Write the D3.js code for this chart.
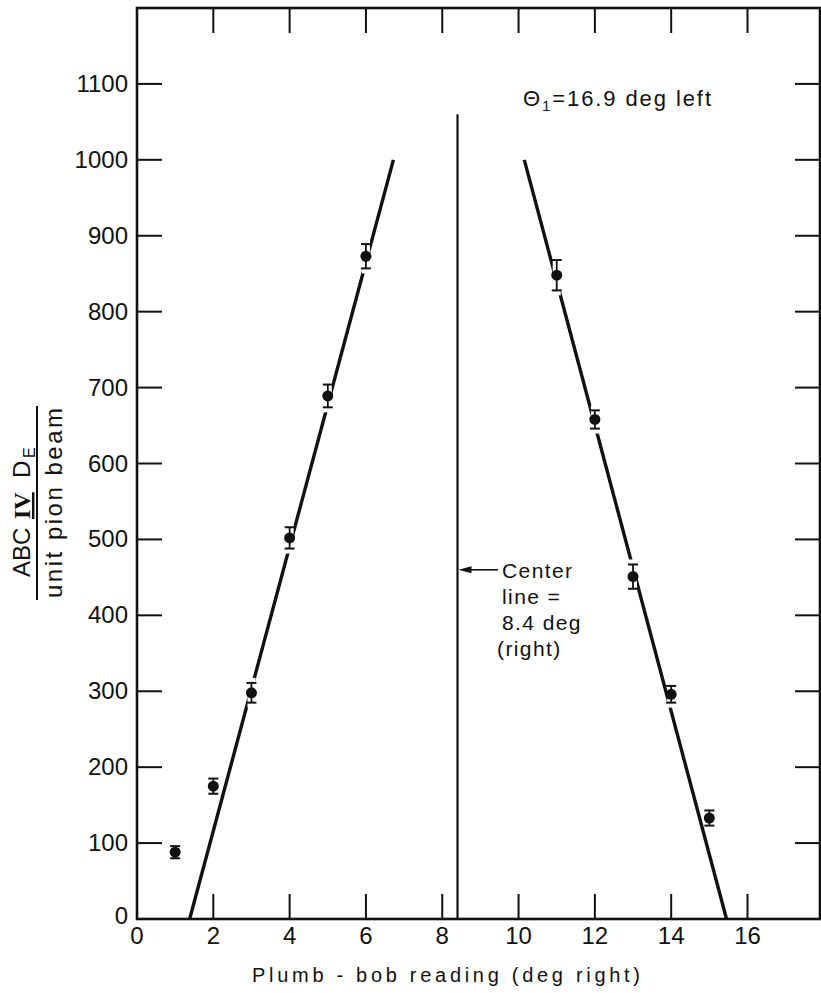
<!DOCTYPE html>
<html>
<head>
<meta charset="utf-8">
<script src="https://cdn.jsdelivr.net/npm/d3@7"></script>
<style>
	body { margin:0; background:#fff; }
	svg { display:block; }
	text { font-family:"Liberation Sans", Arial, sans-serif; fill:#111; }
</style>
</head>
<body>
<div id="chart"></div>
<script>

// plumb-bob readings (deg right) and counts
var leftX = [1, 2, 3, 4, 5, 6];
var leftY = [88, 175, 298, 502, 689, 873];
var leftErr = [8, 10, 13, 14, 15, 16];

var rightX = [11, 12, 13, 14, 15];
var rightY = [848, 658, 451, 296, 133];
var rightErr = [20, 12, 16, 11, 10];

// straight line fits, drawn by hand in the original
var leftFit = [[1.38, 0], [6.72, 1000]];
var rightFit = [[10.15, 1000], [15.45, 0]];

var centerLine = 8.4;
var centerTop = 1060;
var arrowY = 460;

var xTicks = [0, 2, 4, 6, 8, 10, 12, 14, 16];
var yTicks = [0, 100, 200, 300, 400, 500, 600, 700, 800, 900, 1000, 1100];

var W = 821, H = 993;
var margin = {left:137, top:8, right:1, bottom:74};

var svg = d3.select("#chart").append("svg")
	.attr("width", W)
	.attr("height", H);

var x = d3.scaleLinear().domain([0, 17.9]).range([margin.left, W - margin.right]);
var y = d3.scaleLinear().domain([0, 1200]).range([H - margin.bottom, margin.top]);

var tickLen = 25;

// frame
svg.append("rect")
	.attr("x", x(0)).attr("y", y(1200))
	.attr("width", x(17.9) - x(0)).attr("height", y(0) - y(1200))
	.attr("fill", "none").attr("stroke", "#111").attr("stroke-width", 2.6);

// ticks on all four sides, pointing inward
var inner = xTicks.filter(function(d){ return d > 0; });
svg.selectAll(".tb").data(inner).enter().append("line")
	.attr("x1", function(d){ return x(d); }).attr("x2", function(d){ return x(d); })
	.attr("y1", y(0)).attr("y2", y(0) - tickLen)
	.attr("stroke", "#111").attr("stroke-width", 2);
svg.selectAll(".tt").data(inner).enter().append("line")
	.attr("x1", function(d){ return x(d); }).attr("x2", function(d){ return x(d); })
	.attr("y1", y(1200)).attr("y2", y(1200) + tickLen)
	.attr("stroke", "#111").attr("stroke-width", 2);

var innerY = yTicks.filter(function(d){ return d > 0; });
svg.selectAll(".tl").data(innerY).enter().append("line")
	.attr("x1", x(0)).attr("x2", x(0) + tickLen)
	.attr("y1", function(d){ return y(d); }).attr("y2", function(d){ return y(d); })
	.attr("stroke", "#111").attr("stroke-width", 2);
svg.selectAll(".tr").data(innerY).enter().append("line")
	.attr("x1", x(17.9)).attr("x2", x(17.9) - tickLen)
	.attr("y1", function(d){ return y(d); }).attr("y2", function(d){ return y(d); })
	.attr("stroke", "#111").attr("stroke-width", 2);

// tick labels
svg.selectAll(".xl").data(xTicks).enter().append("text")
	.attr("x", function(d){ return x(d); })
	.attr("y", y(0) + 25)
	.attr("text-anchor", "middle")
	.attr("font-size", 24)
	.text(function(d){ return d; });

svg.selectAll(".yl").data(yTicks).enter().append("text")
	.attr("x", x(0) - 9)
	.attr("y", function(d){ return d === 0 ? y(d) + 5 : y(d) + 8; })
	.attr("text-anchor", "end")
	.attr("font-size", 24)
	.text(function(d){ return d; });

// axis title
svg.append("text")
	.attr("x", 446).attr("y", 982)
	.attr("text-anchor", "middle")
	.attr("font-size", 20)
	.attr("textLength", 388)
	.attr("lengthAdjust", "spacing")
	.text("Plumb - bob  reading  (deg  right)");

// y title as a fraction, rotated
var yt = svg.append("g").attr("transform", "translate(37,503) rotate(-90)");
var num = yt.append("text")
	.attr("y", -7)
	.attr("font-size", 24);
num.append("tspan").attr("x", -74).text("ABC");
num.append("tspan").attr("x", -16)
	.attr("font-family", "Liberation Serif").attr("font-weight", "bold")
	.attr("text-decoration", "underline").text("IV");
num.append("tspan").attr("x", 25).text("D");
num.append("tspan").attr("x", 45).attr("font-size", 16).attr("dy", 5).text("E");
yt.append("line")
	.attr("x1", -97).attr("x2", 97).attr("y1", 0).attr("y2", 0)
	.attr("stroke", "#111").attr("stroke-width", 2);
yt.append("text")
	.attr("x", -95).attr("y", 25)
	.attr("font-size", 24)
	.attr("textLength", 190)
	.attr("lengthAdjust", "spacing")
	.text("unit  pion  beam");

// center line with arrow and note
svg.append("line")
	.attr("x1", x(centerLine)).attr("x2", x(centerLine))
	.attr("y1", y(0)).attr("y2", y(centerTop))
	.attr("stroke", "#111").attr("stroke-width", 2.2);

svg.append("line")
	.attr("x1", x(centerLine) + 10).attr("x2", 498)
	.attr("y1", y(arrowY)).attr("y2", y(arrowY))
	.attr("stroke", "#111").attr("stroke-width", 1.6);
svg.append("path")
	.attr("d", d3.line()([
		[x(centerLine) + 1, y(arrowY)],
		[x(centerLine) + 14, y(arrowY) - 3.5],
		[x(centerLine) + 14, y(arrowY) + 3.5]
	]) + "Z")
	.attr("fill", "#111");

var note = ["Center", "line =", "8.4 deg", "(right)"];
svg.selectAll(".note").data(note).enter().append("text")
	.attr("x", function(d, i){ return i === 3 ? 497 : 502; })
	.attr("y", function(d, i){ return y(arrowY) + 8 + i * 26; })
	.attr("font-size", 21)
	.attr("letter-spacing", 1.4)
	.text(function(d){ return d; });

var th = svg.append("text")
	.attr("x", 523).attr("y", 106)
	.attr("font-size", 22)
	.attr("textLength", 188)
	.attr("lengthAdjust", "spacing");
th.append("tspan").text("\u0398");
th.append("tspan").attr("font-size", 15).attr("dy", 5).text("1");
th.append("tspan").attr("dy", -5).text("=16.9 deg  left");

// fit lines
function drawFit(pts){
	svg.append("line")
		.attr("x1", x(pts[0][0])).attr("y1", y(pts[0][1]))
		.attr("x2", x(pts[1][0])).attr("y2", y(pts[1][1]))
		.attr("stroke", "#111").attr("stroke-width", 3.4);
}
drawFit(leftFit);
drawFit(rightFit);

// data points with error bars, line broken around each
function drawPoints(xs, ys, es){
	var data = xs.map(function(d, i){ return {x:d, y:ys[i], e:es[i]}; });
	var g = svg.append("g");
	g.selectAll(".gap").data(data).enter().append("rect")
		.attr("x", function(d){ return x(d.x) - 4; })
		.attr("y", function(d){ return y(d.y + d.e) - 5; })
		.attr("width", 8)
		.attr("height", function(d){ return y(d.y - d.e) - y(d.y + d.e) + 10; })
		.attr("fill", "#fff");
	g.selectAll(".bar").data(data).enter().append("line")
		.attr("x1", function(d){ return x(d.x); }).attr("x2", function(d){ return x(d.x); })
		.attr("y1", function(d){ return y(d.y + d.e); }).attr("y2", function(d){ return y(d.y - d.e); })
		.attr("stroke", "#111").attr("stroke-width", 1.8);
	[1, -1].forEach(function(s){
		g.selectAll(".cap").data(data).enter().append("line")
			.attr("x1", function(d){ return x(d.x) - 5; }).attr("x2", function(d){ return x(d.x) + 5; })
			.attr("y1", function(d){ return y(d.y + s * d.e); }).attr("y2", function(d){ return y(d.y + s * d.e); })
			.attr("stroke", "#111").attr("stroke-width", 2);
	});
	g.selectAll(".dot").data(data).enter().append("circle")
		.attr("cx", function(d){ return x(d.x); })
		.attr("cy", function(d){ return y(d.y); })
		.attr("r", 5.5)
		.attr("fill", "#111");
}
drawPoints(leftX, leftY, leftErr);
drawPoints(rightX, rightY, rightErr);

</script>
</body>
</html>
